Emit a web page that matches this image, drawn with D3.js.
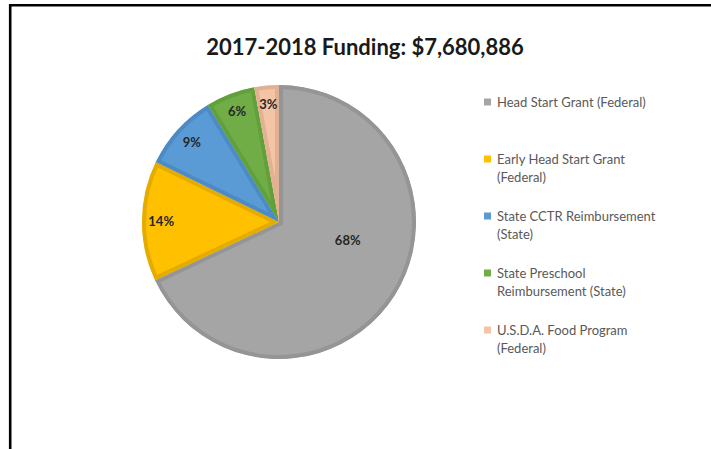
<!DOCTYPE html>
<html><head><meta charset="utf-8">
<script src="https://cdn.jsdelivr.net/npm/d3@7"></script>
<style>
html,body{margin:0;padding:0;background:#fff;}
svg{display:block;}
</style></head>
<body>
<svg id="chart" width="711" height="449"></svg>
<script>
const title = "2017-2018 Funding: $7,680,886";
const categories = [
  "Head Start Grant (Federal)",
  "Early Head Start Grant (Federal)",
  "State CCTR Reimbursement (State)",
  "State Preschool Reimbursement (State)",
  "U.S.D.A. Food Program (Federal)"
];
const legendLines = [
  ["Head Start Grant (Federal)"],
  ["Early Head Start Grant", "(Federal)"],
  ["State CCTR Reimbursement", "(State)"],
  ["State Preschool", "Reimbursement (State)"],
  ["U.S.D.A. Food Program", "(Federal)"]
];
const shares = [68.0, 14.2, 9.1, 5.8, 2.9];
const fills = ["#a5a5a5", "#ffc000", "#5b9bd5", "#70ad47", "#f4c4a6"];
const borders = ["#959595", "#e5ac00", "#4d8bc6", "#62a03b", "#e2b191"];

const svg = d3.select("#chart");

// frame lines (top and left)
svg.append("path")
  .attr("d", "M711,5.2H10.2V449")
  .attr("fill", "none").attr("stroke", "#000").attr("stroke-width", 2.6);

svg.append("text")
  .attr("x", 365).attr("y", 55)
  .attr("text-anchor", "middle")
  .attr("font-family", "Lato, 'Open Sans', sans-serif")
  .attr("font-weight", "bold")
  .attr("font-size", 22)
  .attr("fill", "#1a1a1a")
  .text(title);

const cx = 279, cy = 222, r = 137;
const pie = d3.pie().sort(null).value(d => d);
const arcs = pie(shares);
const arc = d3.arc().innerRadius(0).outerRadius(r);

const g = svg.append("g").attr("transform", `translate(${cx},${cy})`);
const defs = svg.append("defs");
arcs.forEach((a, i) => {
  defs.append("clipPath").attr("id", "clip" + i)
    .append("path").attr("d", arc(a));
});
g.selectAll("path.slice").data(arcs).join("path")
  .attr("class", "slice")
  .attr("d", arc)
  .attr("fill", (d, i) => fills[i])
  .attr("stroke", (d, i) => borders[i])
  .attr("stroke-width", 8)
  .attr("stroke-linejoin", "miter")
  .attr("clip-path", (d, i) => `url(#clip${i})`);

// labels
g.selectAll("text.lbl").data(arcs).join("text")
  .attr("class", "lbl")
  .attr("transform", d => {
    const big = (d.endAngle - d.startAngle) > Math.PI;
    const ang = big ? d.startAngle + (d.endAngle - d.startAngle) * 0.43
                    : (d.startAngle + d.endAngle) / 2;
    const rr = big ? r * 0.52 : r * 0.86;
    return `translate(${Math.sin(ang) * rr},${-Math.cos(ang) * rr})`;
  })
  .attr("text-anchor", "middle")
  .attr("dy", "0.35em")
  .attr("font-family", "Lato, 'Open Sans', sans-serif")
  .attr("font-weight", "bold")
  .attr("font-size", 13)
  .attr("fill", "#262626")
  .text(d => Math.round(d.data) + "%");

// legend
const legY = d3.scalePoint().domain(d3.range(categories.length)).range([102, 330]);
const leg = svg.append("g");
categories.forEach((c, i) => {
  const y = legY(i);
  leg.append("rect").attr("x", 484).attr("y", y - 3.5).attr("width", 7).attr("height", 7)
    .attr("fill", fills[i]);
  const t = leg.append("text")
    .attr("font-family", "Lato, 'Open Sans', sans-serif")
    .attr("font-size", 13)
    .attr("fill", "#595959");
  legendLines[i].forEach((ln, j) => {
    t.append("tspan").attr("x", 497).attr("y", y + j * 18.5).attr("dy", "0.35em").text(ln);
  });
});
</script>
</body></html>
